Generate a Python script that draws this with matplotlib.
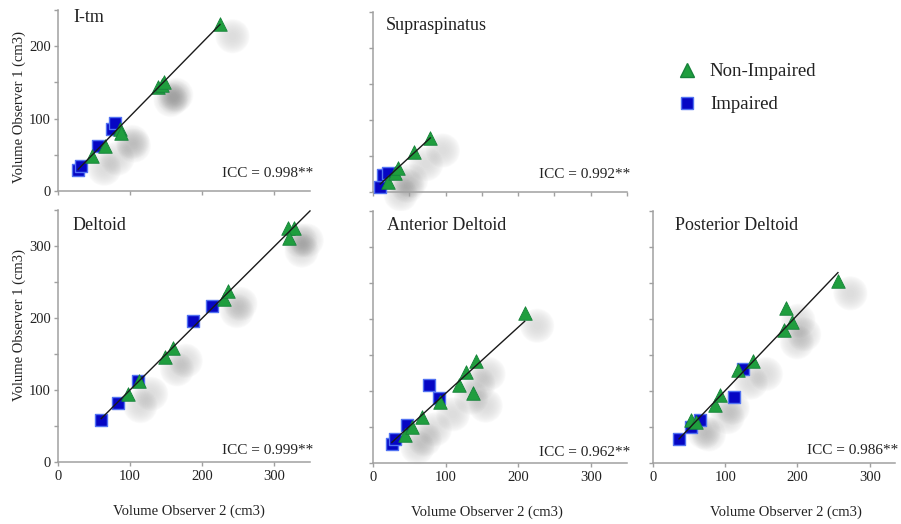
import numpy as np
import matplotlib.pyplot as plt
from matplotlib.transforms import offset_copy
from matplotlib.lines import Line2D
from matplotlib.ticker import MultipleLocator, NullFormatter

plt.rcParams['font.family'] = ['Liberation Serif', 'DejaVu Serif']

# volume observer 2 (x) vs observer 1 (y), cm3
itm_imp_x = [28, 32, 56, 75, 79]
itm_imp_y = [29, 34, 62, 85, 94]
itm_non_x = [47, 65, 86, 88, 139, 144, 147, 225]
itm_non_y = [48, 62, 85, 80, 143, 147, 150, 231]

supra_imp_x = [10, 14, 21]
supra_imp_y = [7, 24, 26]
supra_non_x = [21, 30, 35, 56, 79]
supra_non_y = [14, 26, 33, 56, 75]

delt_imp_x = [60, 83, 111, 187, 214]
delt_imp_y = [59, 82, 112, 196, 216]
delt_non_x = [97, 112, 148, 160, 231, 236, 319, 328, 321]
delt_non_y = [95, 112, 146, 158, 227, 237, 325, 325, 311]

ant_imp_x = [26, 31, 47, 77, 91]
ant_imp_y = [26, 34, 53, 108, 90]
ant_non_x = [44, 54, 68, 93, 118, 128, 142, 138, 209]
ant_non_y = [39, 50, 64, 85, 108, 127, 141, 97, 208]

post_imp_x = [36, 53, 65, 112, 125]
post_imp_y = [34, 50, 60, 91, 130]
post_non_x = [53, 60, 86, 93, 118, 139, 182, 192, 184, 256]
post_non_y = [60, 57, 81, 94, 129, 141, 185, 196, 215, 253]

titles = ['I-tm', 'Supraspinatus', 'Deltoid', 'Anterior Deltoid', 'Posterior Deltoid']
iccs = ['0.998', '0.992', '0.999', '0.962', '0.986']

green = '#1f9e3e'
green_edge = '#16823a'
blue = '#0606c4'
blue_edge = '#5272f2'
axis_gray = '#a0a0a0'
text_col = '#222222'

W, H = 901, 524
fig = plt.figure(figsize=(W / 100, H / 100), dpi=100)


def px_axes(x0, x1, y0, y1):
    return fig.add_axes([x0 / W, 1 - y1 / H, (x1 - x0) / W, (y1 - y0) / H])


panels = [
    dict(i=0, imp=(itm_imp_x, itm_imp_y), non=(itm_non_x, itm_non_y),
         box=(58, 310, 10, 191), xmax=350, ymax=250, row=0, col=0, tdy=7, xstep=100),
    dict(i=1, imp=(supra_imp_x, supra_imp_y), non=(supra_non_x, supra_non_y),
         box=(373, 627, 12, 192), xmax=350, ymax=250, row=0, col=1, tdy=13, xstep=50),
    dict(i=2, imp=(delt_imp_x, delt_imp_y), non=(delt_non_x, delt_non_y),
         box=(58, 310, 210, 462), xmax=350, ymax=350, row=1, col=0, tdy=15, xstep=100),
    dict(i=3, imp=(ant_imp_x, ant_imp_y), non=(ant_non_x, ant_non_y),
         box=(373, 627, 211, 463), xmax=350, ymax=350, row=1, col=1, tdy=15, xstep=100),
    dict(i=4, imp=(post_imp_x, post_imp_y), non=(post_non_x, post_non_y),
         box=(653, 895, 211, 463), xmax=335, ymax=350, row=1, col=2, tdy=15, xstep=100),
]

title_dx = [15, 13, 15, 14, 22]
icc_dy = [18, 17, 12, 11, 13]
xlabel_x = [0.52, 0.45, 0.55]

# blurred shadow: many faint discs stacked
shadow_sizes = np.linspace(620, 30, 16)

for p in panels:
    ax = px_axes(*p['box'])
    i = p['i']
    ax.set_xlim(0, p['xmax'])
    ax.set_ylim(0, p['ymax'])
    for s in ['top', 'right']:
        ax.spines[s].set_visible(False)
    for s in ['left', 'bottom']:
        ax.spines[s].set_color(axis_gray)
        ax.spines[s].set_linewidth(1.1)

    ax.xaxis.set_major_locator(MultipleLocator(p['xstep']))
    if p['col'] == 0:
        ax.yaxis.set_major_locator(MultipleLocator(100))
        ax.yaxis.set_minor_locator(MultipleLocator(50))
    else:
        ax.yaxis.set_major_locator(MultipleLocator(50))
        ax.yaxis.set_major_formatter(NullFormatter())
    if p['row'] == 0:
        ax.xaxis.set_major_formatter(NullFormatter())
    ax.tick_params(which='both', direction='out', length=3, width=1,
                   color=axis_gray, labelsize=10.5, labelcolor=text_col, pad=2)
    ax.tick_params(axis='x', pad=3)

    nx, ny = p['non']
    tr = offset_copy(ax.transData, fig=fig, x=9, y=-9, units='points')
    for s in shadow_sizes:
        ax.scatter(nx, ny, s=s, c='#505050', alpha=0.013, edgecolors='none',
                   transform=tr, zorder=1, clip_on=False)

    ix, iy = p['imp']
    ax.scatter(ix, iy, marker='s', s=80, c=blue, edgecolors=blue_edge,
               linewidths=1.0, zorder=3, clip_on=False)
    ax.scatter(nx, ny, marker='^', s=95, c=green, edgecolors=green_edge,
               linewidths=0.6, zorder=4, clip_on=False)

    # regression line through all points
    allx = np.array(ix + nx, dtype=float)
    ally = np.array(iy + ny, dtype=float)
    k, b = np.polyfit(allx, ally, 1)
    x_end = p['xmax'] if i == 2 else allx.max()
    xs = np.array([allx.min(), x_end])
    ax.plot(xs, k * xs + b, color='#1a1a1a', lw=1.0, zorder=5, clip_on=False)

    ax.annotate(titles[i], xy=(0, 1), xycoords='axes fraction',
                xytext=(title_dx[i] * 0.72, -p['tdy'] * 0.72), textcoords='offset points',
                ha='left', va='center', fontsize=13, color=text_col)
    ax.annotate('ICC = ' + iccs[i] + '**', xy=(1, 0), xycoords='axes fraction',
                xytext=(2, icc_dy[i] * 0.72), textcoords='offset points',
                ha='right', va='center', fontsize=11, color=text_col)

    if p['col'] == 0:
        ax.set_ylabel('Volume Observer 1 (cm3)', fontsize=10.5, color=text_col)
        ylab_y = 0.464 if p['row'] == 0 else 0.544
        ax.yaxis.set_label_coords(-0.128, ylab_y)
    if p['row'] == 1:
        ax.set_xlabel('Volume Observer 2 (cm3)', fontsize=10.5, color=text_col)
        ax.xaxis.set_label_coords(xlabel_x[p['col']], -0.17)

handles = [
    Line2D([], [], marker='^', ls='none', color=green, mec=green_edge, ms=10,
           label='Non-Impaired'),
    Line2D([], [], marker='s', ls='none', color=blue, mec=blue_edge, ms=9,
           label='Impaired'),
]
fig.legend(handles=handles, loc='upper left', bbox_to_anchor=(678 / W, 1 - 63 / H),
           frameon=False, fontsize=13.5, handlelength=1.0, handletextpad=0.7,
           labelspacing=0.85, borderaxespad=0, borderpad=0, labelcolor=text_col)

fig.savefig('out.png', dpi=100)
